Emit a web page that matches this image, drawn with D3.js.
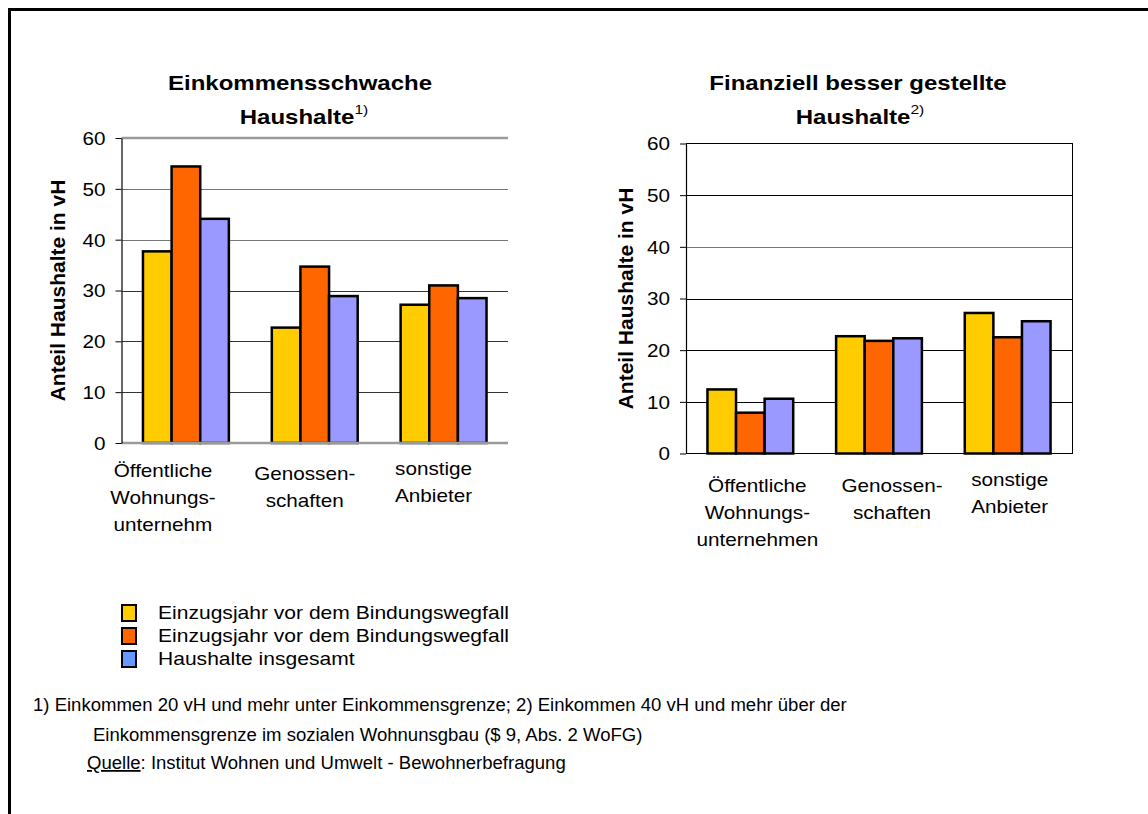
<!DOCTYPE html>
<html><head><meta charset="utf-8">
<script src="https://cdn.jsdelivr.net/npm/d3@7"></script>
<style>
html,body{margin:0;padding:0;background:#fff;}
svg{display:block;font-family:"Liberation Sans",Arial,sans-serif;}
</style></head>
<body>
<svg id="c" width="1148" height="814"></svg>
<script>
// ---- data ----
const categories = ["Öffentliche Wohnungsunternehmen", "Genossenschaften", "sonstige Anbieter"];
const labelsLeft = [["Öffentliche","Wohnungs-","unternehm"],["Genossen-","schaften"],["sonstige","Anbieter"]];
const labelsRight = [["Öffentliche","Wohnungs-","unternehmen"],["Genossen-","schaften"],["sonstige","Anbieter"]];
const seriesNames = ["Einzugsjahr vor dem Bindungswegfall","Einzugsjahr vor dem Bindungswegfall","Haushalte insgesamt"];
const seriesColors = ["#FFCC00","#FF6600","#9999FF"];
const legendColors = ["#FFCC00","#FF6600","#6699FF"];
// left chart: Einkommensschwache Haushalte
const leftYellow = [37.7, 22.7, 27.2];
const leftOrange = [54.4, 34.7, 31.0];
const leftBlue   = [44.1, 28.9, 28.5];
// right chart: Finanziell besser gestellte Haushalte
const rightYellow = [12.4, 22.7, 27.2];
const rightOrange = [7.9, 21.8, 22.5];
const rightBlue   = [10.6, 22.3, 25.6];
const yTicks = [0,10,20,30,40,50,60];
const yLabel = "Anteil Haushalte in vH";
const footnotes = [
  "1) Einkommen 20 vH und mehr unter Einkommensgrenze; 2) Einkommen 40 vH und mehr über der",
  "Einkommensgrenze im sozialen Wohnunsgbau ($ 9, Abs. 2 WoFG)"
];
const sourceLabel = "Quelle";
const sourceText = ": Institut Wohnen und Umwelt - Bewohnerbefragung";

// ---- drawing ----
const svg = d3.select("#c");
const SX = 1.15; // horizontal stretch of text in the reference

svg.append("path").attr("d","M9.5,814 V9.5 H1148").attr("fill","none").attr("stroke","#000").attr("stroke-width",3);

function stext(x, y, str, opts={}) {
  const t = svg.append("text")
    .attr("transform", `translate(${x},${y}) scale(${opts.sx||SX},1)`)
    .attr("font-size", opts.size||18)
    .attr("font-weight", opts.bold?"bold":"normal")
    .attr("text-anchor", opts.anchor||"start")
    .attr("fill","#000");
  if (str !== null) t.text(str);
  return t;
}

function chart(cfg) {
  const {x0,x1,yTop,yBot,values,labels,labelDx,labelY,title1,title2,sup,titleX,style} = cfg;
  const g = svg.append("g");
  const x = d3.scaleBand().domain(categories).range([x0,x1]).paddingInner(1/3).paddingOuter(1/6);
  const xs = d3.scaleBand().domain([0,1,2]).range([0,x.bandwidth()]);
  const y = d3.scaleLinear().domain([0,60]).range([yBot,yTop]);
  const W = x1-x0;

  // gridlines
  g.append("g").attr("transform",`translate(${x0},0)`)
    .call(d3.axisLeft(y).tickValues(yTicks.filter(v=>v>0 && v<60)).tickSize(-W).tickFormat(""))
    .call(s=>s.select(".domain").remove())
    .call(s=>s.selectAll("line").attr("stroke",d=>style.gridFn(d)).attr("stroke-width",1).attr("shape-rendering","crispEdges"));
  if (style.frame) {
    g.append("rect").attr("x",x0).attr("y",y(60)).attr("width",W).attr("height",y(0)-y(60))
      .attr("fill","none").attr("stroke","#000").attr("stroke-width",1).attr("shape-rendering","crispEdges");
  } else {
    g.append("line").attr("x1",x0).attr("x2",x1).attr("y1",y(60)).attr("y2",y(60))
      .attr("stroke","#9a9a9a").attr("stroke-width",2.5);
  }

  // bars
  const series = [values[0],values[1],values[2]];
  series.forEach((vals,si)=>{
    g.selectAll(null).data(vals).join("rect")
      .attr("x",(d,i)=>x(categories[i])+xs(si))
      .attr("y",d=>y(d))
      .attr("width",xs.bandwidth())
      .attr("height",d=>y(0)-y(d))
      .attr("fill",seriesColors[si])
      .attr("stroke","#000").attr("stroke-width",2.5);
  });

  // bottom axis line
  g.append("line").attr("x1",x0).attr("x2",x1).attr("y1",y(0)).attr("y2",y(0))
    .attr("stroke",style.base).attr("stroke-width",style.baseW);

  // y axis
  const ax = g.append("g").attr("transform",`translate(${x0},0)`)
    .call(d3.axisLeft(y).tickValues(yTicks).tickSize(6).tickPadding(0).tickSizeOuter(0));
  ax.select(".domain").attr("stroke","#000").attr("stroke-width",1.2);
  ax.selectAll("line").attr("stroke","#000").attr("stroke-width",1);
  ax.selectAll("text").attr("font-size",18).attr("font-family","Liberation Sans, Arial, sans-serif")
    .attr("fill","#000").attr("x",-16/SX).attr("dy","0.36em").attr("transform",`scale(${SX},1)`);

  // category labels
  categories.forEach((c,i)=>{
    const cx = x(c)+x.bandwidth()/2 + labelDx[i];
    labels[i].forEach((ln,j)=>{
      stext(cx, labelY[i] + j*27, ln, {anchor:"middle"});
    });
  });

  // y label
  svg.append("text").attr("transform",`translate(${cfg.yLabX},${(yTop+yBot)/2}) rotate(-90)`)
    .attr("text-anchor","middle").attr("font-weight","bold").attr("font-size",21).text(yLabel);

  // titles
  stext(titleX[0], 90, title1, {bold:true, size:20, anchor:"middle", sx:1.2});
  const t2 = stext(titleX[1], 124, null, {bold:true, size:20, anchor:"middle", sx:1.2});
  t2.append("tspan").text(title2);
  t2.append("tspan").attr("font-size",13).attr("font-weight","normal").attr("dy",-10).text(sup);
}

chart({x0:121.5,x1:508,yTop:138,yBot:443,
  values:[leftYellow,leftOrange,leftBlue], labels:labelsLeft,
  labelDx:[-23,-10,-10], labelY:[477,480,475],
  title1:"Einkommensschwache", title2:"Haushalte", sup:"1)", titleX:[300,304],
  yLabX:65,
  style:{gridFn:d=>(d>=40?"#777":"#333"), frame:false, base:"#9a9a9a", baseW:2.5}});

chart({x0:686,x1:1072,yTop:143.5,yBot:453.5,
  values:[rightYellow,rightOrange,rightBlue], labels:labelsRight,
  labelDx:[7,13,2], labelY:[492,492,486],
  title1:"Finanziell besser gestellte", title2:"Haushalte", sup:"2)", titleX:[858,860],
  yLabX:633,
  style:{gridFn:d=>(d===40?"#777":"#000"), frame:true, base:"#000", baseW:1}});

// legend
seriesNames.forEach((n,i)=>{
  const yy = 605 + i*23;
  svg.append("rect").attr("x",122).attr("y",yy).attr("width",14).attr("height",16)
    .attr("fill",legendColors[i]).attr("stroke","#000").attr("stroke-width",2);
  stext(158, yy+14, n, {size:18, sx:1.17});
});

// footnotes
stext(33, 711, footnotes[0], {size:18, sx:1.03});
stext(93, 741, footnotes[1], {size:18, sx:1.03});
const q = stext(87, 769, null, {size:18, sx:1.03});
q.append("tspan").attr("text-decoration","underline").text(sourceLabel);
q.append("tspan").text(sourceText);
</script>
</body></html>
